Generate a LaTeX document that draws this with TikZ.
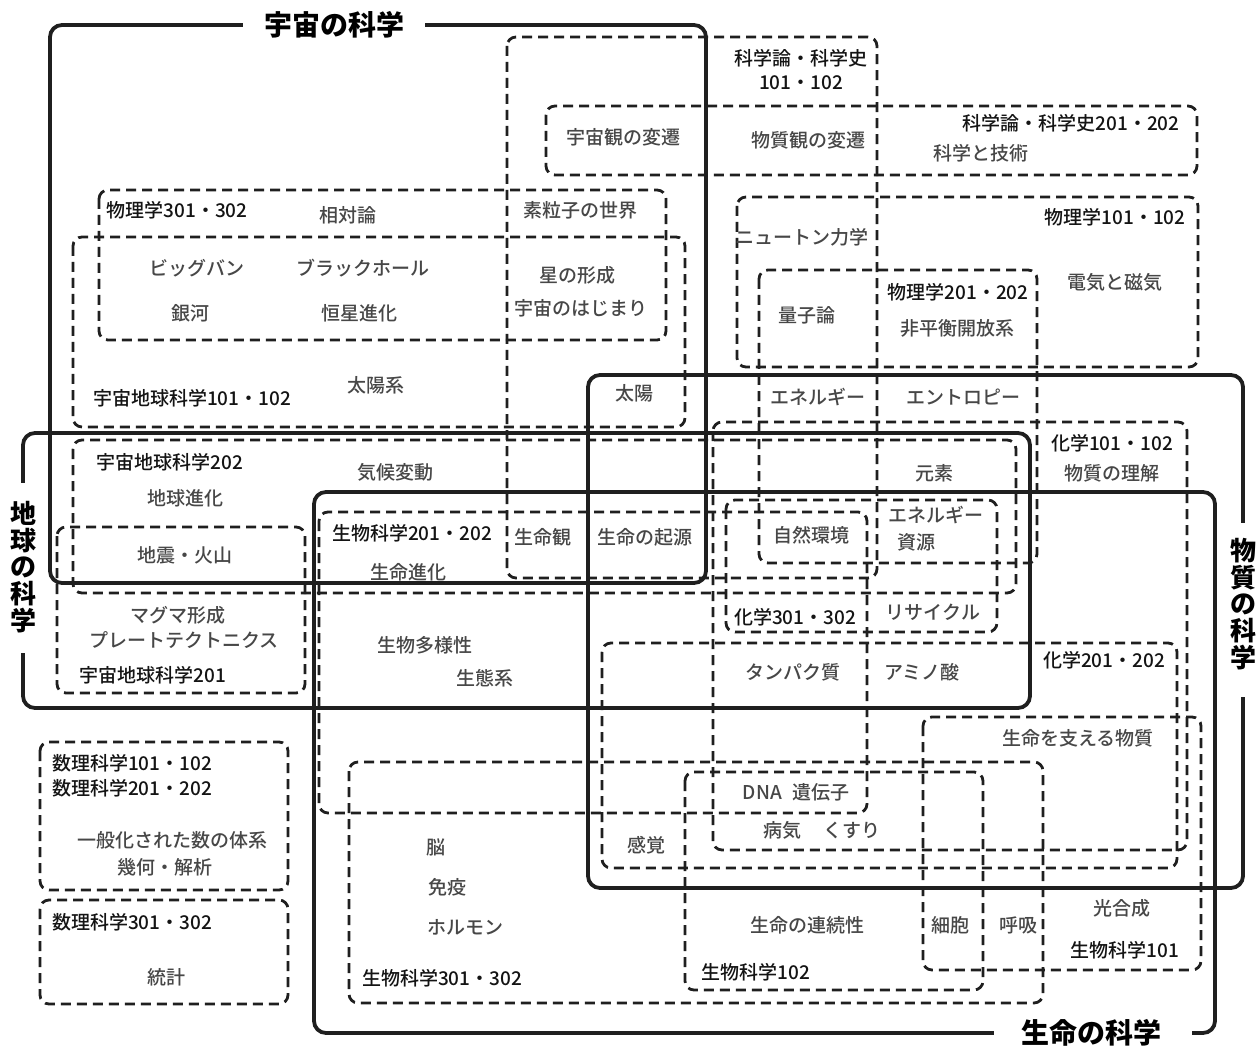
\documentclass[tikz,border=0pt]{standalone}
\usepackage{fontspec}
\setmainfont{Noto Sans CJK JP}
\newfontfamily\jpcourse{Noto Sans CJK JP Medium}
\newfontfamily\jptopic{Noto Sans CJK JP Medium}
\begin{document}
\begin{tikzpicture}[x=1pt,y=-1pt,
  solidbox/.style={draw=black!88, line width=3.8pt, rounded corners=12pt},
  dbox/.style={draw=black!88, line width=2.8pt, dash pattern=on 10pt off 6pt, rounded corners=9pt},
  course/.style={font=\jpcourse\fontsize{19}{21}\selectfont, text=black!92, inner sep=0pt},
  topic/.style={font=\jptopic\fontsize{19}{21}\selectfont, text=black!72, inner sep=0pt},
  title/.style={font=\bfseries\fontsize{28}{28}\selectfont, inner sep=0pt},
  vtitle/.style={font=\bfseries\fontsize{26}{26.6}\selectfont, align=center, inner sep=0pt}]
\useasboundingbox (0,0) rectangle (1258,1048);
\fill[white] (0,0) rectangle (1258,1048);
% dashed course boxes
\draw[dbox] (507,37) rectangle (877,578);   % 科学論・科学史101・102
\draw[dbox] (546,106) rectangle (1197,175); % 科学論・科学史201・202
\draw[dbox] (99,190) rectangle (666,340);   % 物理学301・302
\draw[dbox] (73,237) rectangle (685,427);   % 宇宙地球科学101・102
\draw[dbox] (737,197) rectangle (1198,367); % 物理学101・102
\draw[dbox] (759,270) rectangle (1037,563); % 物理学201・202
\draw[dbox] (73,440) rectangle (1016,593);  % 宇宙地球科学202
\draw[dbox] (57,527) rectangle (305,693);   % 宇宙地球科学201
\draw[dbox] (319,512) rectangle (867,813);  % 生物科学201・202
\draw[dbox] (713,422) rectangle (1187,850); % 化学101・102
\draw[dbox] (726,500) rectangle (997,632);  % 化学301・302
\draw[dbox] (602,643) rectangle (1177,868); % 化学201・202
\draw[dbox] (923,717) rectangle (1201,970); % 生物科学101
\draw[dbox] (685,772) rectangle (983,990);  % 生物科学102
\draw[dbox] (349,762) rectangle (1043,1003);% 生物科学301・302
\draw[dbox] (40,742) rectangle (288,890);   % 数理科学101・102/201・202
\draw[dbox] (40,900) rectangle (288,1004);  % 数理科学301・302
% solid field boxes
\draw[solidbox] (50,25) rectangle (706,583);
\draw[solidbox] (23,433) rectangle (1030,708);
\draw[solidbox] (588,375) rectangle (1243,888);
\draw[solidbox] (314,492) rectangle (1215,1033);
% title gaps
\fill[white] (243,14) rectangle (425,36);
\fill[white] (994,1022) rectangle (1192,1044);
\fill[white] (12,483) rectangle (34,653);
\fill[white] (1232,523) rectangle (1254,697);
% titles
\node[title] (tUchu) at (334,25) {宇宙の科学};
\node[title] (tSeimei) at (1091,1033) {生命の科学};
\node[vtitle] (tChikyu) at (23,567) {地\\球\\の\\科\\学};
\node[vtitle] (tBusshitsu) at (1243,604) {物\\質\\の\\科\\学};
% course labels
\node[course] (cK1a) at (801,58) {科学論・科学史};
\node[course] (cK1b) at (801,83) {101・102};
\node[course] (cK2) at (1071,123) {科学論・科学史201・202};
\node[course] (cP3) at (177,210) {物理学301・302};
\node[course] (cU1) at (192,398) {宇宙地球科学101・102};
\node[course] (cP1) at (1115,217) {物理学101・102};
\node[course] (cP2) at (958,292) {物理学201・202};
\node[course] (cE) at (170,462) {宇宙地球科学202};
\node[course] (cC1) at (1112,443) {化学101・102};
\node[course] (cG) at (412,533) {生物科学201・202};
\node[course] (cC3) at (795,617) {化学301・302};
\node[course] (cC2) at (1104,660) {化学201・202};
\node[course] (cF) at (153,675) {宇宙地球科学201};
\node[course] (cM1a) at (132,763) {数理科学101・102};
\node[course] (cM1b) at (132,788) {数理科学201・202};
\node[course] (cM2) at (132,922) {数理科学301・302};
\node[course] (cB1) at (1125,950) {生物科学101};
\node[course] (cB2) at (756,972) {生物科学102};
\node[course] (cB3) at (442,978) {生物科学301・302};
% topics
\node[topic] (tp1) at (623,137) {宇宙観の変遷};
\node[topic] (tp2) at (808,140) {物質観の変遷};
\node[topic] (tp3) at (981,153) {科学と技術};
\node[topic] (tp4) at (348,215) {相対論};
\node[topic] (tp5) at (580,210) {素粒子の世界};
\node[topic] (tp6) at (197,268) {ビッグバン};
\node[topic] (tp7) at (363,268) {ブラックホール};
\node[topic] (tp8) at (577,275) {星の形成};
\node[topic] (tp9) at (190,313) {銀河};
\node[topic] (tp10) at (359,313) {恒星進化};
\node[topic] (tp11) at (581,308) {宇宙のはじまり};
\node[topic] (tp12) at (376,385) {太陽系};
\node[topic] (tp13) at (634,393) {太陽};
\node[topic] (tp14) at (802,237) {ニュートン力学};
\node[topic] (tp15) at (1115,282) {電気と磁気};
\node[topic] (tp16) at (807,315) {量子論};
\node[topic] (tp17) at (957,328) {非平衡開放系};
\node[topic] (tp18) at (818,397) {エネルギー};
\node[topic] (tp19) at (963,397) {エントロピー};
\node[topic] (tp20) at (395,472) {気候変動};
\node[topic] (tp21) at (185,498) {地球進化};
\node[topic] (tp22) at (934,473) {元素};
\node[topic] (tp23) at (1112,473) {物質の理解};
\node[topic] (tp24) at (185,555) {地震・火山};
\node[topic] (tp25) at (543,537) {生命観};
\node[topic] (tp26) at (645,537) {生命の起源};
\node[topic] (tp27) at (811,535) {自然環境};
\node[topic] (tp28) at (936,515) {エネルギー};
\node[topic] (tp29) at (916,542) {資源};
\node[topic] (tp30) at (408,572) {生命進化};
\node[topic] (tp31) at (933,612) {リサイクル};
\node[topic] (tp32) at (178,615) {マグマ形成};
\node[topic] (tp33) at (184,640) {プレートテクトニクス};
\node[topic] (tp34) at (425,645) {生物多様性};
\node[topic] (tp35) at (485,678) {生態系};
\node[topic] (tp36) at (793,672) {タンパク質};
\node[topic] (tp37) at (922,672) {アミノ酸};
\node[topic] (tp38) at (1078,738) {生命を支える物質};
\node[topic] (tp39) at (796,792) {DNA\hspace{10pt}遺伝子};
\node[topic] (tp40) at (822,830) {病気\hspace{22pt}くすり};
\node[topic] (tp41) at (172,840) {一般化された数の体系};
\node[topic] (tp42) at (165,867) {幾何・解析};
\node[topic] (tp43) at (646,845) {感覚};
\node[topic] (tp44) at (436,847) {脳};
\node[topic] (tp45) at (447,887) {免疫};
\node[topic] (tp46) at (465,927) {ホルモン};
\node[topic] (tp47) at (1122,908) {光合成};
\node[topic] (tp48) at (807,925) {生命の連続性};
\node[topic] (tp49) at (950,925) {細胞};
\node[topic] (tp50) at (1018,925) {呼吸};
\node[topic] (tp51) at (166,977) {統計};
\end{tikzpicture}
\end{document}
